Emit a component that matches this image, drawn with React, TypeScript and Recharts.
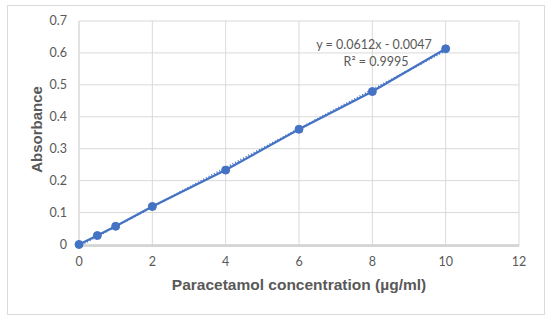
import { ComposedChart, Line, XAxis, YAxis, CartesianGrid, Label } from "recharts";

const concentration = [0, 0.5, 1, 2, 4, 6, 8, 10];
const absorbance = [0, 0.028, 0.057, 0.119, 0.233, 0.361, 0.479, 0.613];
const trendX = [0, 10];
const trendY = [-0.0047, 0.6073];
const xTicks = [0, 2, 4, 6, 8, 10, 12];
const yTicks = [0, 0.1, 0.2, 0.3, 0.4, 0.5, 0.6, 0.7];

const points = concentration.map((x, i) => ({ x, y: absorbance[i] }));
const trend = trendX.map((x, i) => ({ x, t: trendY[i] }));

const blue = "#4472C4";
const font = "Lato, 'Open Sans', sans-serif";
const titleFont = "'Liberation Sans', Arial, sans-serif";

export default function App() {
  return (
    <div
      style={{
        position: "absolute",
        left: 7,
        top: 5,
        width: 536,
        height: 308,
        border: "1px solid #d9d9d9",
        background: "#fff",
        fontFamily: font,
      }}
    >
      <ComposedChart
        width={536}
        height={308}
        margin={{ top: 15, right: 25, left: 0, bottom: 0 }}
      >
        <CartesianGrid stroke="#d9d9d9" />
        <XAxis
          type="number"
          dataKey="x"
          domain={[0, 12]}
          ticks={xTicks}
          height={68}
          tickLine={false}
          tickSize={0}
          tickMargin={11}
          axisLine={{ stroke: "#bfbfbf" }}
          tick={{ fill: "#595959", fontSize: 12.5, fontFamily: font }}
          allowDuplicatedCategory={false}
        >
          <Label
            value="Paracetamol concentration (µg/ml)"
            position="insideBottom"
            offset={24}
            style={{ fill: "#595959", fontSize: 15.5, fontWeight: 700, fontFamily: titleFont }}
          />
        </XAxis>
        <YAxis
          type="number"
          domain={[0, 0.7]}
          ticks={yTicks}
          width={71}
          tickLine={false}
          tickSize={0}
          tickMargin={12}
          axisLine={{ stroke: "#d9d9d9" }}
          tick={{ fill: "#595959", fontSize: 12.5, fontFamily: font }}
          tickFormatter={(v: number) => String(Number(v.toFixed(1)))}
        >
          <Label
            value="Absorbance"
            angle={-90}
            position="insideLeft"
            offset={29}
            dy={-4}
            style={{ fill: "#595959", fontSize: 15, fontWeight: 700, fontFamily: titleFont, textAnchor: "middle" }}
          />
        </YAxis>
        <Line
          data={trend}
          dataKey="t"
          type="linear"
          stroke={blue}
          strokeWidth={2}
          strokeDasharray="1 2"
          dot={false}
          activeDot={false}
          isAnimationActive={false}
        />
        <Line
          data={points}
          dataKey="y"
          type="linear"
          stroke={blue}
          strokeWidth={2.25}
          dot={{ r: 4, fill: blue, stroke: blue, strokeWidth: 1 }}
          activeDot={false}
          isAnimationActive={false}
        />
      </ComposedChart>
      <div
        style={{
          position: "absolute",
          left: 290,
          top: 30,
          width: 152,
          textAlign: "center",
          fontSize: 12.5,
          lineHeight: "17px",
          color: "#595959",
        }}
      >
        <div>y = 0.0612x - 0.0047</div>
        <div style={{ paddingLeft: 4 }}>R² = 0.9995</div>
      </div>
    </div>
  );
}
